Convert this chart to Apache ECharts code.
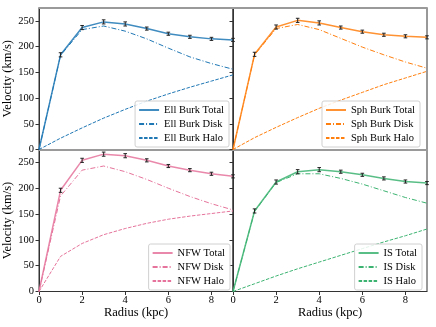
<!DOCTYPE html>
<html>
<head>
<meta charset="utf-8">
<script src="https://cdn.jsdelivr.net/npm/echarts@6/dist/echarts.min.js"></script>
<style>
  html, body { margin: 0; padding: 0; background: #fff; }
  #chart { width: 436px; height: 327px; }
</style>
</head>
<body>
<div id="chart"></div>
<script>
// radius samples (kpc)
const radius = [0, 1, 2, 3, 4, 5, 6, 7, 8, 9];

const ellTotal = [0, 184, 237, 248, 244, 235, 225, 219, 215, 213];
const ellDisk  = [0, 183, 233, 240, 230, 215, 197, 180, 167, 156];
const ellHalo  = [0, 22, 42, 61, 78, 94, 108, 121, 133, 145];

const sphTotal = [0, 185, 238, 251, 246, 237, 229, 223, 220, 218];
const sphDisk  = [0, 184, 235, 243, 233, 216, 199, 184, 170, 158];
const sphHalo  = [0, 23, 43, 62, 80, 96, 111, 126, 139, 152];

const nfwTotal = [0, 196, 254, 266, 263, 254, 243, 235, 228, 223];
const nfwDisk  = [0, 185, 235, 243, 232, 217, 200, 184, 170, 158];
const nfwHalo  = [0, 68, 93, 110, 122, 132, 140, 146, 151, 156];

const isTotal = [0, 156, 212, 232, 236, 232, 226, 219, 213, 210];
const isDisk  = [0, 155, 211, 228, 228, 219, 208, 195, 182, 171];
const isHalo  = [0, 15, 30, 44, 57, 70, 83, 96, 108, 121];

// error on the total curve
const totalErr = [0, 4, 4, 4, 4, 3, 3, 3, 3, 3];

const yTicks = [0, 50, 100, 150, 200, 250];
const xTicks = [0, 2, 4, 6, 8];

const FONT = 'Liberation Serif';
const DASHDOT = [5, 2, 1, 2];
const DASHED = [3.5, 1.5];

const panels = [
  { name: 'Ell Burk', color: '#1f77b4', total: ellTotal, disk: ellDisk, halo: ellHalo },
  { name: 'Sph Burk', color: '#ff7f0e', total: sphTotal, disk: sphDisk, halo: sphHalo },
  { name: 'NFW', color: '#e5739b', total: nfwTotal, disk: nfwDisk, halo: nfwHalo },
  { name: 'IS', color: '#3cb371', total: isTotal, disk: isDisk, halo: isHalo }
];

const pairs = arr => radius.map((r, i) => [r, arr[i]]);

const grids = [
  { left: 39, top: 8, width: 194, height: 141.5 },
  { left: 233, top: 8, width: 194, height: 141.5 },
  { left: 39, top: 149.5, width: 194, height: 142 },
  { left: 233, top: 149.5, width: 194, height: 142 }
].map(g => Object.assign({ show: true, borderColor: '#333', borderWidth: 1, backgroundColor: 'transparent' }, g));

const legendPos = [
  { right: 207, top: 101 },
  { right: 16, top: 101 },
  { right: 206, top: 244 },
  { right: 14, top: 244 }
];

const xAxes = [];
const yAxes = [];
const series = [];
const legends = [];

panels.forEach((p, i) => {
  const bottomRow = i >= 2;
  const leftCol = i % 2 === 0;
  xAxes.push({
    type: 'value', gridIndex: i, min: 0, max: 9,
    name: bottomRow ? 'Radius (kpc)' : '',
    nameLocation: 'middle', nameGap: 14,
    nameTextStyle: { fontFamily: FONT, fontSize: 12.5, color: '#000' },
    axisLine: { show: true, lineStyle: { color: bottomRow ? '#333' : '#9a9a9a', width: bottomRow ? 1 : 2 } },
    axisTick: { show: bottomRow, length: 3.5, lineStyle: { color: '#333' }, customValues: xTicks },
    axisLabel: { show: bottomRow, margin: 3, fontFamily: FONT, fontSize: 10.5, color: '#000', customValues: xTicks },
    splitLine: { show: false }
  });
  yAxes.push({
    type: 'value', gridIndex: i, min: 0, max: 275,
    name: leftCol ? 'Velocity (km/s)' : '',
    nameLocation: 'middle', nameGap: 16,
    nameTextStyle: { fontFamily: FONT, fontSize: 12.5, color: '#000' },
    axisLine: { show: true, lineStyle: { color: '#333', width: 1 } },
    axisTick: { show: true, length: 3.5, lineStyle: { color: '#333' }, customValues: yTicks },
    axisLabel: { show: leftCol, margin: 5, fontFamily: FONT, fontSize: 10.5, color: '#000', customValues: yTicks },
    splitLine: { show: false }
  });
  series.push(
    { type: 'line', name: p.name + ' Total', xAxisIndex: i, yAxisIndex: i, data: pairs(p.total),
      symbol: 'none', color: p.color, lineStyle: { width: 1.5, opacity: 0.85 }, z: 3 },
    { type: 'line', name: p.name + ' Disk', xAxisIndex: i, yAxisIndex: i, data: pairs(p.disk),
      symbol: 'none', color: p.color, lineStyle: { width: 1, type: DASHDOT } },
    { type: 'line', name: p.name + ' Halo', xAxisIndex: i, yAxisIndex: i, data: pairs(p.halo),
      symbol: 'none', color: p.color, lineStyle: { width: 1, type: DASHED } },
    { type: 'custom', name: p.name + ' err', xAxisIndex: i, yAxisIndex: i, z: 4,
      data: radius.map((r, k) => [r, p.total[k], totalErr[k]]),
      renderItem: (params, api) => {
        const x = api.value(0), y = api.value(1), e = api.value(2);
        if (!e) return null;
        const hi = api.coord([x, y + e]);
        const lo = api.coord([x, y - e]);
        const w = 1.8;
        const st = { stroke: '#222', lineWidth: 1 };
        return { type: 'group', children: [
          { type: 'line', shape: { x1: hi[0], y1: hi[1], x2: lo[0], y2: lo[1] }, style: st },
          { type: 'line', shape: { x1: hi[0] - w, y1: hi[1], x2: hi[0] + w, y2: hi[1] }, style: st },
          { type: 'line', shape: { x1: lo[0] - w, y1: lo[1], x2: lo[0] + w, y2: lo[1] }, style: st }
        ] };
      }
    }
  );
  legends.push(Object.assign({
    orient: 'vertical',
    data: [p.name + ' Total', p.name + ' Disk', p.name + ' Halo'],
    itemWidth: 20, itemHeight: 8, itemGap: 2,
    padding: [3, 5, 3, 3],
    backgroundColor: 'rgba(255,255,255,0.85)',
    borderColor: '#d0d0d0', borderWidth: 1, borderRadius: 2,
    itemStyle: { opacity: 0 },
    textStyle: { fontFamily: FONT, fontSize: 10.5, color: '#000', lineHeight: 12 },
    selectedMode: false
  }, legendPos[i]));
});

// top frame lines of the upper panels
[0, 1].forEach(i => {
  xAxes.push({
    type: 'value', gridIndex: i, min: 0, max: 9, position: 'top',
    axisLine: { show: true, lineStyle: { color: '#9a9a9a', width: 2 } },
    axisTick: { show: false }, axisLabel: { show: false }, splitLine: { show: false }
  });
});

const chart = echarts.init(document.getElementById('chart'), null, { renderer: 'canvas' });
chart.setOption({
  animation: false,
  textStyle: { fontFamily: FONT },
  grid: grids,
  xAxis: xAxes,
  yAxis: yAxes,
  legend: legends,
  series: series
});
</script>
</body>
</html>
